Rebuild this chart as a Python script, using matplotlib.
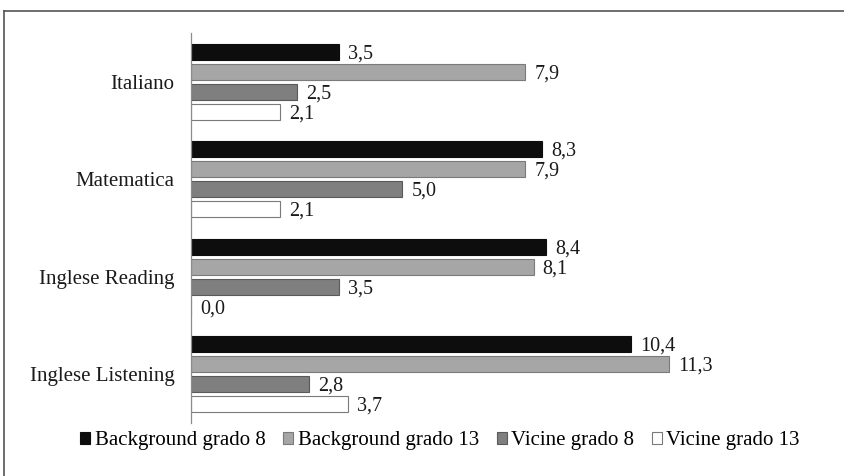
import matplotlib
matplotlib.use("Agg")
import matplotlib.pyplot as plt
from matplotlib.patches import Patch
from matplotlib.lines import Line2D
import numpy as np

plt.rcParams['font.family'] = ['Liberation Serif', 'DejaVu Serif']

categories = ["Italiano", "Matematica", "Inglese Reading", "Inglese Listening"]
series_names = ["Background grado 8", "Background grado 13", "Vicine grado 8", "Vicine grado 13"]
bg_grado8 = [3.5, 8.3, 8.4, 10.4]
bg_grado13 = [7.9, 7.9, 8.1, 11.3]
vic_grado8 = [2.5, 5.0, 3.5, 2.8]
vic_grado13 = [2.1, 2.1, 0.0, 3.7]

series = [bg_grado8, bg_grado13, vic_grado8, vic_grado13]
faces = ["#0d0d0d", "#a6a6a6", "#7f7f7f", "#ffffff"]
edges = ["#0d0d0d", "#7a7a7a", "#5a5a5a", "#7a7a7a"]

W, H = 844, 476
fig = plt.figure(figsize=(W / 100, H / 100), dpi=100)

# outer frame (top and left edges visible)
fig.add_artist(Line2D([4 / W, 4 / W], [0, 1 - 11 / H], color="#555555", lw=1.2))
fig.add_artist(Line2D([4 / W, 1], [1 - 11 / H, 1 - 11 / H], color="#555555", lw=1.2))

px_per_unit = 42.3
xmax = 12.0
ax = fig.add_axes([191 / W, (H - 423) / H, xmax * px_per_unit / W, 390 / H])

y = np.arange(len(categories))
step = 0.205
height = 0.165
for j, (vals, fc, ec) in enumerate(zip(series, faces, edges)):
    pos = y + (j - 1.5) * step
    ax.barh(pos, vals, height=height, color=fc, edgecolor=ec, linewidth=0.8)
    for p, v in zip(pos, vals):
        ax.annotate(f"{v:.1f}".replace(".", ","), xy=(v, p), xytext=(6.5, -1.5),
                    textcoords="offset points", va="center", ha="left",
                    fontsize=14.5, color="#1a1a1a", annotation_clip=False)

ax.set_xlim(0, xmax)
ax.set_ylim(len(categories) - 0.5, -0.5)
ax.set_yticks(y)
ax.set_yticklabels(categories, fontsize=15, color="#1a1a1a")
ax.tick_params(axis="y", length=0, pad=12)
ax.set_xticks([])
for s in ["top", "right", "bottom"]:
    ax.spines[s].set_visible(False)
ax.spines["left"].set_color("#8c8c8c")
ax.spines["left"].set_linewidth(0.9)

handles = [Patch(facecolor=fc, edgecolor=ec, linewidth=0.8) for fc, ec in zip(faces, edges)]
fig.legend(handles, series_names, loc="center", bbox_to_anchor=(440 / W, 1 - 441 / H),
           ncol=4, frameon=False, fontsize=15, handlelength=0.5, handleheight=0.5,
           handletextpad=0.2, columnspacing=0.85, borderpad=0)

fig.savefig("out.png", dpi=100, facecolor="white")
